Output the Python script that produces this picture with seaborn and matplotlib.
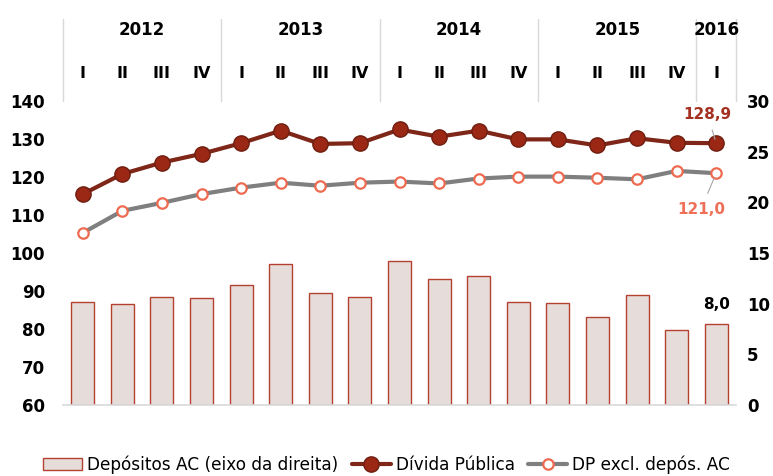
import pandas as pd
import matplotlib.pyplot as plt
import seaborn as sns
from matplotlib.patches import Patch
from matplotlib.lines import Line2D

# Data
years = ['2012', '2013', '2014', '2015', '2016']
quarters = ['I', 'II', 'III', 'IV'] * 4 + ['I']
divida = [115.5, 120.8, 123.8, 126.1, 128.9, 132.2, 128.7, 128.9, 132.5,
          130.6, 132.2, 129.9, 129.9, 128.3, 130.2, 129.0, 128.9]
dp_excl = [105.3, 111.1, 113.2, 115.5, 117.2, 118.5, 117.7, 118.5, 118.8,
           118.3, 119.6, 120.1, 120.1, 119.8, 119.4, 121.6, 121.0]
depositos = [10.2, 10.0, 10.7, 10.6, 11.8, 13.9, 11.1, 10.7, 14.2,
             12.4, 12.7, 10.2, 10.1, 8.7, 10.9, 7.4, 8.0]

df = pd.DataFrame({'pos': range(len(quarters)), 'divida': divida,
                   'dp_excl': dp_excl, 'depositos': depositos})

sns.set_style('white')
plt.rcParams['font.family'] = ['DejaVu Sans']
plt.rcParams['text.color'] = 'black'

fig = plt.figure(figsize=(7.73, 4.76), dpi=100)
ax = fig.add_axes([63 / 773, 1 - 405 / 476, 673 / 773, 304 / 476])

# Bars (right axis scale) drawn on the base axes so lines sit on top
bar_fill = '#E6DCDA'
bar_edge = '#B4402F'
sns.barplot(data=df, x='pos', y='depositos', ax=ax, color=bar_fill,
            width=0.58, saturation=1, edgecolor=bar_edge, linewidth=1)
ax.set_ylim(0, 30)
ax.set_yticks([0, 5, 10, 15, 20, 25, 30])
ax.set_xlim(-0.5, len(quarters) - 0.5)

ax2 = ax.twinx()
dark_red = '#7E2617'
sns.lineplot(data=df, x='pos', y='divida', ax=ax2, color=dark_red, lw=3,
             marker='o', markersize=11, markerfacecolor='#9B2715',
             markeredgecolor='#6E1E10', markeredgewidth=1)
sns.lineplot(data=df, x='pos', y='dp_excl', ax=ax2, color='#7F7F7F', lw=3,
             marker='o', markersize=7.5, markerfacecolor='white',
             markeredgecolor='#EE6A50', markeredgewidth=1.6)
ax2.set_ylim(60, 140)
ax2.set_yticks(range(60, 141, 10))
ax2.set_xlim(-0.5, len(quarters) - 0.5)

# swap sides: bar scale on the right, line scale on the left
ax.yaxis.tick_right()
ax2.yaxis.tick_left()

for a in (ax, ax2):
    a.set_xlabel('')
    a.set_ylabel('')
    a.set_xticks([])
    for s in a.spines.values():
        s.set_visible(False)
    a.tick_params(axis='y', length=0, labelsize=12, labelcolor='black')
    for lbl in a.get_yticklabels():
        lbl.set_fontweight('bold')
ax.tick_params(axis='y', pad=8)
ax2.tick_params(axis='y', pad=13)
ax.spines['bottom'].set_visible(True)
ax.spines['bottom'].set_color('#D9D9D9')
ax.spines['bottom'].set_linewidth(1.2)

# Header with years and quarters
n = len(quarters)
for i, q in enumerate(quarters):
    ax.text(i, 1.092, q, transform=ax.get_xaxis_transform(), ha='center',
            va='center', fontsize=11.5, fontweight='bold')
bounds = [-0.5, 3.5, 7.5, 11.5, 15.5, 16.5]
for b in bounds:
    ax.plot([b, b], [1.0, 1.27], transform=ax.get_xaxis_transform(),
            color='#D9D9D9', lw=1, clip_on=False)
for y, lo, hi in zip(years, bounds[:-1], bounds[1:]):
    ax.text((lo + hi) / 2, 1.234, y, transform=ax.get_xaxis_transform(),
            ha='center', va='center', fontsize=12, fontweight='bold')

# Value labels for the last quarter
last = n - 1
ax2.annotate('128,9', xy=(last, divida[-1]), xytext=(-6.5, 21),
             textcoords='offset points', ha='center', va='center',
             fontsize=11, fontweight='bold', color='#A33020',
             arrowprops=dict(arrowstyle='-', color='#A6A6A6', lw=0.8,
                             shrinkA=4, shrinkB=3))
ax2.annotate('121,0', xy=(last, dp_excl[-1]), xytext=(-11, -26),
             textcoords='offset points', ha='center', va='center',
             fontsize=11, fontweight='bold', color='#EE7058',
             arrowprops=dict(arrowstyle='-', color='#A6A6A6', lw=0.8,
                             shrinkA=4, shrinkB=4))
ax2.annotate('8,0', xy=(last, depositos[-1]), xytext=(0, 14),
             textcoords='offset points', ha='center', va='center',
             fontsize=11, fontweight='bold', color='black',
             xycoords=ax.transData)

# Legend
handles = [
    Patch(facecolor=bar_fill, edgecolor=bar_edge, lw=1),
    Line2D([], [], color=dark_red, lw=3, marker='o', markersize=11,
           markerfacecolor='#9B2715', markeredgecolor='#6E1E10'),
    Line2D([], [], color='#7F7F7F', lw=3, marker='o', markersize=7.5,
           markerfacecolor='white', markeredgecolor='#EE6A50',
           markeredgewidth=1.6),
]
labels = ['Depósitos AC (eixo da direita)', 'Dívida Pública',
          'DP excl. depós. AC']
fig.legend(handles, labels, loc='center', bbox_to_anchor=(0.5, 1 - 465 / 476),
           ncol=3, frameon=False, fontsize=12.2, handlelength=2.3,
           handletextpad=0.3, columnspacing=0.8)

fig.savefig('out.png', dpi=100)
